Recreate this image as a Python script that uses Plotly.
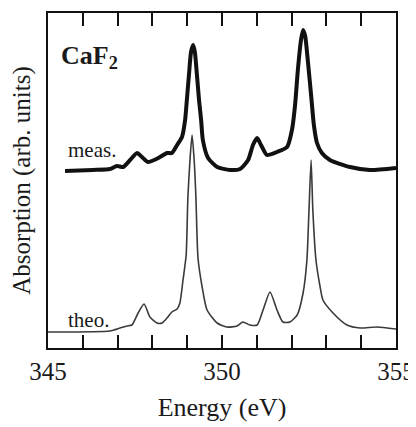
"""CaF2 の Ca L2,3 吸収スペクトル（測定と理論）。"""

import plotly.graph_objects as go

# --- データ ---

meas_energy = [
    345.49, 346.29, 346.78, 346.98, 347.16, 347.36, 347.56, 347.70, 347.87,
    348.05, 348.22, 348.42, 348.56, 348.71, 348.85, 348.94, 348.99, 349.05,
    349.11, 349.17, 349.22, 349.28, 349.34, 349.40, 349.45, 349.60, 349.86,
    350.23, 350.52, 350.75, 350.89, 351.01, 351.12, 351.29, 351.58, 351.87,
    352.01, 352.10, 352.18, 352.27, 352.33, 352.39, 352.47, 352.56, 352.64,
    352.73, 352.87, 353.10, 353.68, 354.25, 355.00,
]
meas_absorption = [
    177, 178, 179, 182, 181, 188, 195, 191, 186,
    188, 191, 195, 195, 203, 211, 228, 248, 273,
    296, 303, 296, 273, 248, 228, 208, 190, 181,
    178, 179, 188, 203, 210, 203, 193, 196, 201,
    218, 243, 278, 308, 318, 312, 286, 253, 223,
    205, 195, 188, 181, 178, 180,
]

theo_energy = [
    345.00, 346.78, 347.07, 347.27, 347.41, 347.59, 347.76, 347.93, 348.13,
    348.28, 348.42, 348.56, 348.71, 348.79, 348.88, 348.97, 349.02, 349.08,
    349.14, 349.20, 349.25, 349.31, 349.43, 349.57, 349.86, 350.14, 350.43,
    350.60, 350.80, 351.01, 351.18, 351.38, 351.58, 351.75, 351.95, 352.16,
    352.33, 352.44, 352.50, 352.56, 352.61, 352.70, 352.82, 352.90, 353.19,
    353.59, 353.97, 354.45, 355.00,
]
theo_absorption = [
    16, 17, 20, 22, 23, 35, 44, 31, 25,
    25, 30, 36, 39, 45, 68, 93, 151, 188,
    213, 188, 151, 90, 61, 38, 25, 21, 22,
    26, 23, 23, 38, 56, 38, 26, 26, 33,
    55, 88, 138, 188, 138, 88, 61, 48, 35,
    23, 20, 21, 19,
]

tick_values = [345, 346, 347, 348, 349, 350, 351, 352, 353, 354, 355]
tick_labels = ["345", "", "", "", "", "350", "", "", "", "", "355"]

# --- 定数 ---

FONT = "Liberation Serif, Times New Roman, serif"
TEXT_COLOR = "#1a1a1a"
LINE_COLOR = "#111111"

# ページの body には 8px の余白が付くので、その分だけ図を小さくしておく
FIG_WIDTH = 408
FIG_HEIGHT = 419

fig = go.Figure()

fig.add_trace(go.Scatter(
    x=theo_energy,
    y=theo_absorption,
    mode="lines",
    line=dict(color="#3a3a3a", width=1.6, shape="spline", smoothing=0.6),
    name="theo.",
))
fig.add_trace(go.Scatter(
    x=meas_energy,
    y=meas_absorption,
    mode="lines",
    line=dict(color=LINE_COLOR, width=4, shape="spline", smoothing=0.6),
    name="meas.",
))

# ラベル
fig.add_annotation(
    x=345.32, y=291, text="<b>CaF<sub>2</sub></b>", showarrow=False,
    xanchor="left", yanchor="middle", font=dict(size=26, color=TEXT_COLOR),
)
fig.add_annotation(
    x=345.53, y=198, text="meas.", showarrow=False,
    xanchor="left", yanchor="middle", font=dict(size=21, color=TEXT_COLOR),
)
fig.add_annotation(
    x=345.53, y=28, text="theo.", showarrow=False,
    xanchor="left", yanchor="middle", font=dict(size=21, color=TEXT_COLOR),
)

fig.update_layout(
    width=FIG_WIDTH,
    height=FIG_HEIGHT,
    margin=dict(l=40, r=20, t=5, b=79),
    plot_bgcolor="white",
    paper_bgcolor="white",
    showlegend=False,
    font=dict(family=FONT, color=TEXT_COLOR),
    xaxis=dict(
        range=[345, 355],
        tickvals=tick_values,
        ticktext=tick_labels,
        ticks="inside",
        ticklen=13,
        tickwidth=2,
        tickcolor=LINE_COLOR,
        showline=True,
        linewidth=2,
        linecolor=LINE_COLOR,
        mirror="ticks",
        showgrid=False,
        zeroline=False,
        automargin=False,
        tickfont=dict(size=25),
        title=dict(text="Energy (eV)", font=dict(size=26), standoff=14),
    ),
    yaxis=dict(
        range=[0, 335],
        showticklabels=False,
        ticks="",
        showline=True,
        linewidth=2,
        linecolor=LINE_COLOR,
        mirror=True,
        showgrid=False,
        zeroline=False,
        automargin=False,
        title=dict(text="Absorption (arb. units)", font=dict(size=25), standoff=10),
    ),
)

fig.write_html("out.html")
